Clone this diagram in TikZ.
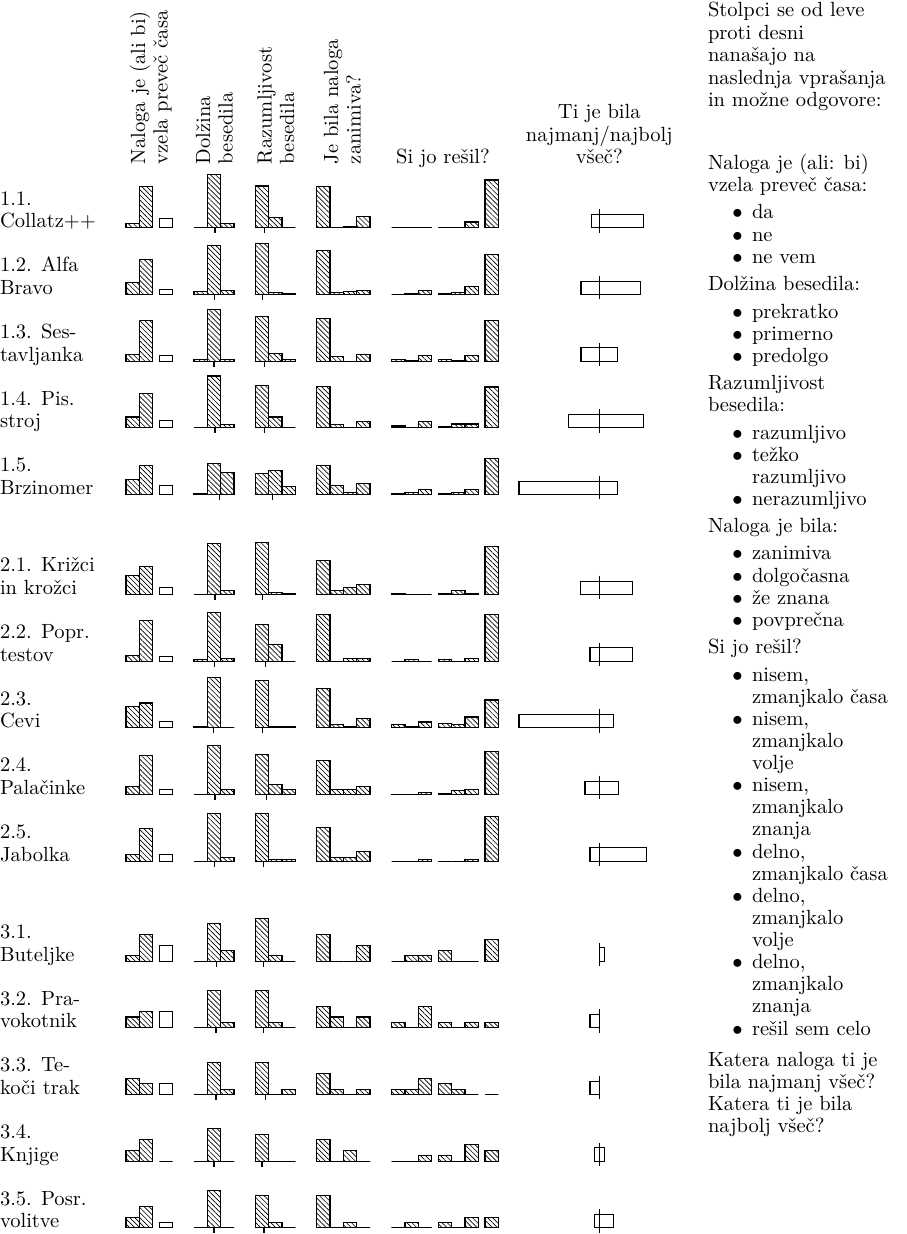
\documentclass[tikz,border=0pt]{standalone}
\usetikzlibrary{patterns.meta}
\tikzset{
  every node/.style={inner sep=0pt, outer sep=0pt, font=\fontsize{10.95pt}{12pt}\selectfont},
  hbar/.style={draw=black, line width=0.55pt, pattern={Lines[angle=-45,distance=1.9pt,line width=0.35pt]}},
  ebar/.style={draw=black, line width=0.55pt},
  meantick/.style={draw=black, line width=0.55pt},
  vhead/.style={rotate=90, anchor=base west},
  rlab/.style={anchor=base west},
  lgtxt/.style={anchor=base west},
}
% row of bars: #1 baseline, #2 G1 hatched, #3 G1 empty, #4 G2, #5 G2 tick, #6 G3, #7 G3 tick, #8 G4, #9 G5
\newcommand\barrow[9]{%
  \foreach \hh [count=\k from 0] in {#2} {\draw[hbar] ({126+13.333*\k},#1) rectangle ++(13.333,-\hh);}
  \draw[ebar] (159.333,#1) rectangle ++(13.333,-#3);
  \foreach \hh [count=\k from 0] in {#4} {\draw[hbar] ({194+13.333*\k},#1) rectangle ++(13.333,-\hh);}
  \draw[meantick] (#5,#1) -- ++(0,5.5);
  \foreach \hh [count=\k from 0] in {#6} {\draw[hbar] ({255.333+13.333*\k},#1) rectangle ++(13.333,-\hh);}
  \draw[meantick] (#7,#1) -- ++(0,5.5);
  \foreach \hh [count=\k from 0] in {#8} {\draw[hbar] ({316.667+13.333*\k},#1) rectangle ++(13.333,-\hh);}
  \foreach \hh [count=\k from 0] in {#9} {\draw[hbar] ({391.667+13.333*\k+6.667*(\k>2)+6.667*(\k>5)},#1) rectangle ++(13.333,-\hh);}
}
\newcommand\boxrow[3]{%
  \draw[ebar] (#2,#1) rectangle (#3,#1-13.333);
  \draw[meantick] (599.333,#1-18.4) -- (599.333,#1+5);
}
\newcommand\rowlabel[4]{%
  \node[rlab] (#1a) at (0,#2-22.5) {#3};
  \node[rlab] (#1b) at (0,#2) {#4};
}
\newcommand\lgh[3]{\node[lgtxt] (#1) at (708,#2) {#3};}
\newcommand\lgi[3]{\node[anchor=base east] (#1b) at (742.6,#2) {$\bullet$};\node[lgtxt] (#1) at (752,#2) {#3};}
\newcommand\lgc[3]{\node[lgtxt] (#1) at (752,#2) {#3};}
\begin{document}
\begin{tikzpicture}[x=0.5333pt,y=-0.5333pt]
\useasboundingbox (0,0) rectangle (907,1234);
% headers
\node[vhead] (h1a) at (145,164) {Naloga je (ali bi)};
\node[vhead] (h1b) at (167.5,164) {vzela preveč časa};
\node[vhead] (h2a) at (210,164) {Dolžina};
\node[vhead] (h2b) at (232.5,164) {besedila};
\node[vhead] (h3a) at (271.7,164) {Razumljivost};
\node[vhead] (h3b) at (294.2,164) {besedila};
\node[vhead] (h4a) at (338,164) {Je bila naloga};
\node[vhead] (h4b) at (360.5,164) {zanimiva?};
\node[anchor=base] (h5) at (443,163.5) {Si jo rešil?};
\node[anchor=base] (h6a) at (599.3,118.5) {Ti je bila};
\node[anchor=base] (h6b) at (599.3,141) {najmanj/najbolj};
\node[anchor=base] (h6c) at (599.3,163.5) {všeč?};
% row labels
\rowlabel{r11}{227.7}{1.1.}{Collatz++}
\rowlabel{r12}{294.37}{1.2. Alfa}{Bravo}
\rowlabel{r13}{361.03}{1.3. Ses-}{tavljanka}
\rowlabel{r14}{427.7}{1.4. Pis.}{stroj}
\rowlabel{r15}{494.37}{1.5.}{Brzinomer}
\rowlabel{r21}{594.37}{2.1. Križci}{in krožci}
\rowlabel{r22}{661.03}{2.2. Popr.}{testov}
\rowlabel{r23}{727.7}{2.3.}{Cevi}
\rowlabel{r24}{794.37}{2.4.}{Palačinke}
\rowlabel{r25}{861.03}{2.5.}{Jabolka}
\rowlabel{r31}{961.03}{3.1.}{Buteljke}
\rowlabel{r32}{1027.7}{3.2. Pra-}{vokotnik}
\rowlabel{r33}{1094.37}{3.3. Te-}{koči trak}
\rowlabel{r34}{1161.03}{3.4.}{Knjige}
\rowlabel{r35}{1227.7}{3.5. Posr.}{volitve}
% bars
\barrow{227.7}{4.3,41}{9.3}{0,53.3,4.3}{215}{41.7,10.3,0}{264.3}{41,0.3,1,11}{0,0.5,0.5,0.5,0,5.7,47.7}
\barrow{294.37}{12,35.3}{5.3}{3,49.3,3.7}{214.3}{50.7,2,1.3}{262.7}{43.7,2,3,4.3}{0,1,3.7,0.5,1.5,8.3,40.3}
\barrow{361.03}{7,41}{5.3}{2,52,2}{214}{44.7,8,2}{264.3}{43,4.3,0,7}{2,0.5,5.3,2,0.5,5.3,40.7}
\barrow{427.7}{10.7,34}{7}{0,51.7,3}{215}{42,10.7,0}{264.3}{41.3,3,0,6}{1.7,0.5,6,1,3.7,3.7,40.7}
\barrow{494.37}{15,29}{9}{0.5,31,22.3}{219.3}{21.3,24,8.3}{272.3}{29,9,2,11}{1.3,2,5,1.3,2,5,35.7}
\barrow{594.37}{18.7,27.7}{6.7}{0,50.7,3.7}{215}{52.3,1.7,0.5}{262.7}{33.7,3.7,6.7,9.7}{1.3,0,0,1.3,3.7,1.3,47.7}
\barrow{661.03}{6,41}{4.7}{1.3,49,3}{214.3}{36.7,17,0}{265.7}{47,0,3,3}{0,1.3,0,1.3,0,3,47}
\barrow{727.7}{21.3,24.7}{6}{1.3,50.3,0}{213.3}{47,1.3,1.3}{262.7}{39.3,3,1.3,9}{3,1.3,5.7,4.3,3,10.7,27.7}
\barrow{794.37}{8,39}{5}{0,49.3,5}{215}{40,10,5}{266.7}{34.3,5,5,8}{0.3,0.3,2,1.3,3.7,5,43.3}
\barrow{861.03}{6.3,32.3}{6.3}{0,47.3,3.3}{214.3}{47.3,1.7,1.7}{263.3}{34,3.3,3.3,9.3}{0,0,1.3,0,0,1.3,44.3}
\barrow{961.03}{5.3,27}{16}{0,37.3,11}{216.7}{42.7,5.3,0}{263.3}{27,0,0,16}{0,5.3,5.3,10.7,0,0,21.7}
\barrow{1027.7}{10.7,16}{16}{0,37.3,5.3}{216}{37.3,5.3,0}{263.3}{21.3,10.7,0,10.7}{5.3,0,21.3,5.3,0,5.3,5.3}
\barrow{1094.37}{16,10.7}{10.7}{0,32,5.3}{216}{32,0,5.3}{265.7}{21.3,5.3,0,5.3}{5.3,5.3,16,10.7,5.3,0,0}
\barrow{1161.03}{10.7,21.3}{0}{0,32.3,0}{214}{26.7,0,0}{262}{21.3,0,10.7,0}{0,0,5.3,5.3,0,16.3,10.7}
\barrow{1227.7}{10.7,21.3}{5.3}{0,37.3,0}{214}{32,5.3,0}{264}{32,0,5.3,0}{0,5.3,0,5.3,0,10.7,10.7}
% least/most liked boxes
\boxrow{227.7}{591.3}{643.3}
\boxrow{294.37}{581}{640.7}
\boxrow{361.03}{581}{617.7}
\boxrow{427.7}{568.3}{643.3}
\boxrow{494.37}{519}{617.7}
\boxrow{594.37}{580.3}{632.3}
\boxrow{661.03}{590}{632.3}
\boxrow{727.7}{519}{613.7}
\boxrow{794.37}{585}{618.3}
\boxrow{861.03}{590}{646.7}
\boxrow{961.03}{599.3}{604.3}
\boxrow{1027.7}{590}{599.3}
\boxrow{1094.37}{590}{599.3}
\boxrow{1161.03}{594.3}{604.3}
\boxrow{1227.7}{594.3}{613.7}
% legend
\lgh{g1}{16.5}{Stolpci se od leve}
\lgh{g2}{39.5}{proti desni}
\lgh{g3}{61.5}{nanašajo na}
\lgh{g4}{84.5}{naslednja vprašanja}
\lgh{g5}{106.5}{in možne odgovore:}
\lgh{g6}{169.5}{Naloga je (ali: bi)}
\lgh{g7}{191.5}{vzela preveč časa:}
\lgi{i1}{218.5}{da}
\lgi{i2}{241.5}{ne}
\lgi{i3}{263.5}{ne vem}
\lgh{g8}{290.5}{Dolžina besedila:}
\lgi{i4}{318.5}{prekratko}
\lgi{i5}{340.5}{primerno}
\lgi{i6}{362.5}{predolgo}
\lgh{g9}{389.5}{Razumljivost}
\lgh{g10}{411.5}{besedila:}
\lgi{i7}{439.5}{razumljivo}
\lgi{i8}{461.5}{težko}
\lgc{c8}{483.5}{razumljivo}
\lgi{i9}{505.5}{nerazumljivo}
\lgh{g11}{532.5}{Naloga je bila:}
\lgi{i10}{559.5}{zanimiva}
\lgi{i11}{582.5}{dolgočasna}
\lgi{i12}{604.5}{že znana}
\lgi{i13}{626.5}{povprečna}
\lgh{g12}{653.5}{Si jo rešil?}
\lgi{i14}{681.5}{nisem,}
\lgc{c14}{703.5}{zmanjkalo časa}
\lgi{i15}{725.5}{nisem,}
\lgc{c15a}{747.5}{zmanjkalo}
\lgc{c15b}{769.5}{volje}
\lgi{i16}{791.5}{nisem,}
\lgc{c16a}{813.5}{zmanjkalo}
\lgc{c16b}{835.5}{znanja}
\lgi{i17}{858.5}{delno,}
\lgc{c17}{880.5}{zmanjkalo časa}
\lgi{i18}{902.5}{delno,}
\lgc{c18a}{924.5}{zmanjkalo}
\lgc{c18b}{946.5}{volje}
\lgi{i19}{968.5}{delno,}
\lgc{c19a}{990.5}{zmanjkalo}
\lgc{c19b}{1012.5}{znanja}
\lgi{i20}{1035.5}{rešil sem celo}
\lgh{g13}{1066.5}{Katera naloga ti je}
\lgh{g14}{1088.5}{bila najmanj všeč?}
\lgh{g15}{1110.5}{Katera ti je bila}
\lgh{g16}{1132.5}{najbolj všeč?}
\end{tikzpicture}
\end{document}
